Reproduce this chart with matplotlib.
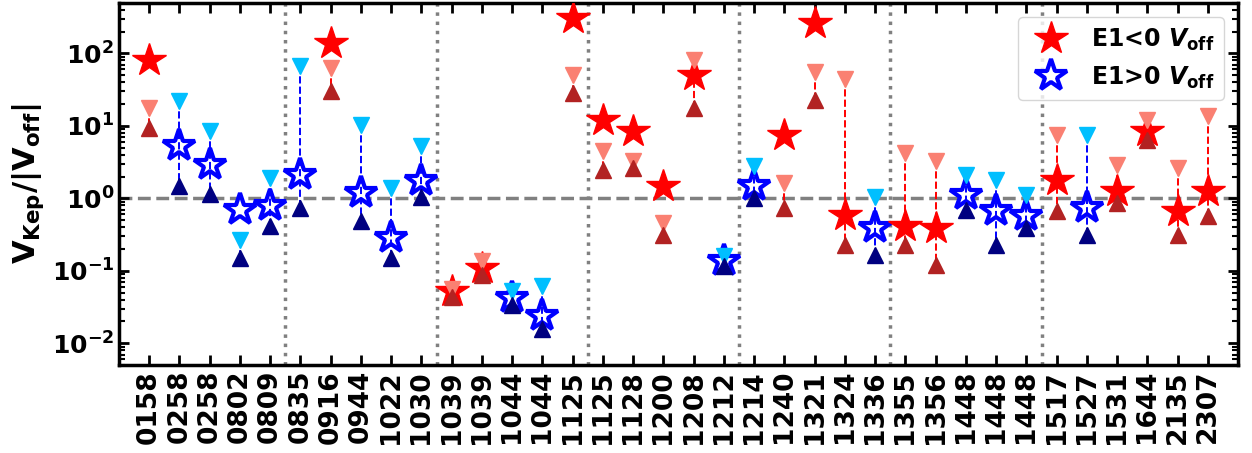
import matplotlib
matplotlib.use("Agg")
import matplotlib.pyplot as plt
import numpy as np

# Source names (x tick labels)
names = ["0158", "0258", "0258", "0802", "0809", "0835", "0916", "0944", "1022", "1030",
         "1039", "1039", "1044", "1044", "1125", "1125", "1128", "1200", "1208", "1212",
         "1214", "1240", "1321", "1324", "1336", "1355", "1356", "1448", "1448", "1448",
         "1517", "1527", "1531", "1644", "2135", "2307"]

# True where E1 < 0 (red), False where E1 > 0 (blue)
e1_neg = [True, False, False, False, False, False, True, False, False, False,
          True, True, False, False, True, True, True, True, True, False,
          False, True, True, True, False, True, True, False, False, False,
          True, False, True, True, True, True]

# V_Kep / |V_off| (stars)
ratio = [80, 5.2, 2.85, 0.68, 0.78, 2.08, 137, 1.17, 0.28, 1.72,
         0.052, 0.108, 0.042, 0.024, 304, 11.9, 8.4, 1.46, 50, 0.135,
         1.46, 7.4, 259, 0.58, 0.386, 0.41, 0.386, 1.1, 0.66, 0.565,
         1.77, 0.73, 1.25, 8.4, 0.66, 1.25]

# upper ends (down triangles)
upper = [17.4, 21.8, 8.4, 0.264, 1.89, 66, 62, 10.2, 1.37, 5.2,
         0.057, 0.135, 0.052, 0.061, 50, 4.45, 3.24, 0.45, 80, 0.158,
         2.76, 1.61, 54.7, 45, 1.06, 4.17, 3.24, 2.08, 1.77, 1.1,
         7.4, 7.4, 2.85, 11.9, 2.59, 13.5]

# lower ends (up triangles)
lower = [9.2, 1.46, 1.13, 0.149, 0.41, 0.73, 30, 0.48, 0.149, 1.06,
         0.044, 0.087, 0.034, 0.016, 28, 2.43, 2.59, 0.31, 17.4, 0.115,
         1.0, 0.73, 22.5, 0.225, 0.164, 0.225, 0.119, 0.68, 0.225, 0.386,
         0.66, 0.31, 0.85, 6.3, 0.31, 0.565]

plt.rcParams['font.family'] = 'DejaVu Sans'
plt.rcParams['font.weight'] = 'bold'
plt.rcParams['axes.labelweight'] = 'bold'
plt.rcParams['mathtext.default'] = 'bf'

fig = plt.figure(figsize=(12.52, 4.53), dpi=100)
ax = fig.add_axes([0.095, 0.194, 0.894, 0.80])

x = np.arange(len(names))
red_done = False
blue_done = False
for i in range(len(names)):
    if e1_neg[i]:
        lab = None if red_done else r'E1<0 $\mathbfit{V}_{\mathbf{off}}$'
        red_done = True
        ax.plot(x[i], ratio[i], marker='*', ms=25, color='red', ls='none',
                mec='red', label=lab, zorder=3)
        ax.plot([x[i], x[i]], [upper[i], lower[i]], ls='--', color='red', lw=1.4, zorder=4)
        ax.plot(x[i], upper[i], marker='v', ms=11, color='salmon', ls='none', zorder=4)
        ax.plot(x[i], lower[i], marker='^', ms=11, color='firebrick', ls='none', zorder=4)
    else:
        lab = None if blue_done else r'E1>0 $\mathbfit{V}_{\mathbf{off}}$'
        blue_done = True
        ax.plot(x[i], ratio[i], marker='*', ms=24, mfc='white', mec='blue', mew=3,
                ls='none', label=lab, zorder=3)
        ax.plot([x[i], x[i]], [upper[i], lower[i]], ls='--', color='blue', lw=1.4, zorder=4)
        ax.plot(x[i], upper[i], marker='v', ms=11, color='deepskyblue', ls='none', zorder=4)
        ax.plot(x[i], lower[i], marker='^', ms=11, color='navy', ls='none', zorder=4)

ax.axhline(1.0, color='gray', ls='--', lw=2.5, zorder=1)
for xv in np.arange(4.5, 30, 5):
    ax.axvline(xv, color='gray', ls=':', lw=2.5, zorder=1)

ax.set_yscale('log')
ax.set_ylim(5e-3, 5e2)
ax.set_xlim(-1, 36)
ax.set_xticks(x)
ax.set_xticklabels(names, rotation=90, fontsize=19, fontweight='bold')
ax.set_ylabel(r'$\mathbf{V}_{\mathbf{Kep}}/|\mathbf{V}_{\mathbf{off}}|$', fontsize=22, labelpad=4)
ax.tick_params(axis='y', labelsize=18)
ax.tick_params(which='major', direction='in', top=True, right=True, length=7, width=2)
ax.tick_params(which='minor', direction='in', top=True, right=True, length=4, width=1.5)
for sp in ax.spines.values():
    sp.set_linewidth(2.5)

ax.legend(loc='upper right', fontsize=17, handletextpad=0.7, borderpad=0.4,
          borderaxespad=0.6)

fig.savefig('out.png', dpi=100)
